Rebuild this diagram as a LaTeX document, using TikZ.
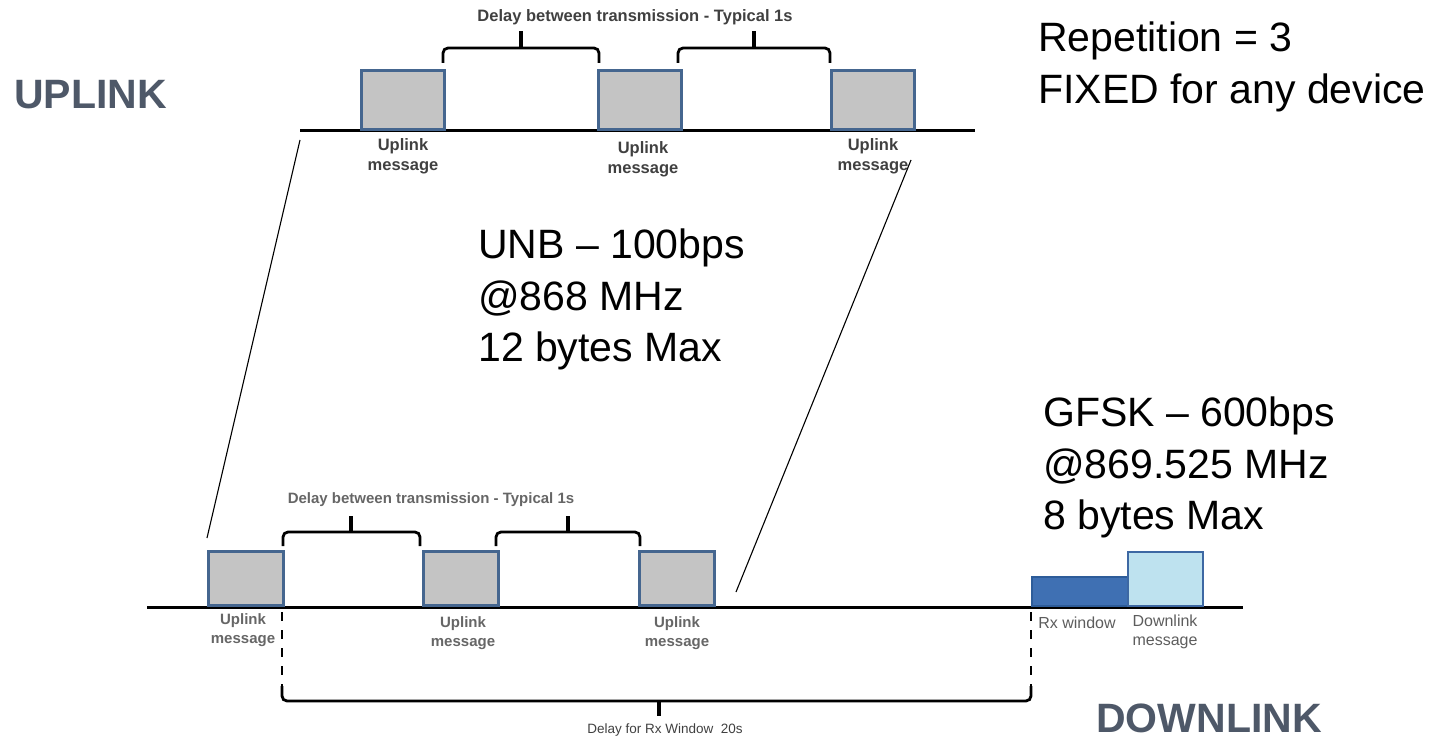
\documentclass[tikz,border=0pt]{standalone}
\usepackage{fontspec}
\setmainfont{Liberation Sans}
\definecolor{boxblue}{HTML}{45668F}
\definecolor{boxgray}{HTML}{C4C4C4}
\definecolor{rxblue}{HTML}{3F70B3}
\definecolor{rxedge}{HTML}{2D5C99}
\definecolor{dlfill}{HTML}{BEE2EF}
\definecolor{dledge}{HTML}{3D68A3}
\definecolor{titlegray}{HTML}{4E5868}
\definecolor{smallgray}{HTML}{404040}
\begin{document}
\begin{tikzpicture}[x=1pt,y=-1pt,
  ulbox/.style={draw=boxblue, fill=boxgray, line width=2.6pt, inner sep=0pt, anchor=south west},
  axis/.style={line width=3pt, black},
  brace/.style={line width=2.8pt, black, rounded corners=5pt},
  tip/.style={line width=3.2pt, black},
  zoomline/.style={line width=1.1pt, black},
  big/.style={font=\fontsize{41}{51.5}\selectfont, inner sep=0pt, anchor=north west, align=left},
  title/.style={font=\bfseries\fontsize{41}{48}\selectfont, text=titlegray, inner sep=0pt, anchor=west},
  lbltop/.style={font=\bfseries\fontsize{16.5}{20}\selectfont, text=smallgray, align=center, inner sep=0pt},
  lblbot/.style={font=\bfseries\fontsize{15}{19}\selectfont, text=smallgray!80, align=center, inner sep=0pt},
  lblrx/.style={font=\fontsize{16}{18.5}\selectfont, text=smallgray!85, align=center, inner sep=0pt},
  dashv/.style={line width=2.6pt, black, dash pattern=on 9pt off 9pt}
]
\useasboundingbox (0,0) rectangle (1440,741);

% ---------------- titles and big texts
\node[title] (uplink) at (14,95) {UPLINK};
\node[title] (downlink) at (1096,718) {DOWNLINK};
\node[big] (rep) at (1038,22) {Repetition = 3\\FIXED for any device};
\node[big] (unb) at (478,229) {UNB – 100bps\\@868 MHz\\12 bytes Max};
\node[big] (gfsk) at (1043,397) {GFSK – 600bps\\@869.525 MHz\\8 bytes Max};

% ---------------- top timeline
\coordinate (ta) at (300,131);
\coordinate (tb) at (975,131);
\draw[axis] (ta) -- (tb);
\node[ulbox, minimum width=83pt, minimum height=59pt] (t1) at (360,131) {};
\node[ulbox, minimum width=83pt, minimum height=59pt] (t2) at (597,131) {};
\node[ulbox, minimum width=83pt, minimum height=59pt] (t3) at (830,131) {};
\node[lbltop] (tl1) at (403,156) {Uplink\\message};
\node[lbltop] (tl2) at (643,159) {Uplink\\message};
\node[lbltop] (tl3) at (873,156) {Uplink\\message};

% braces top
\draw[brace] (443,63) -- (443,48) -- (599,48) -- (599,63);
\draw[tip] (521,48) -- (521,31);
\draw[brace] (678,63) -- (678,48) -- (830,48) -- (830,63);
\draw[tip] (754,48) -- (754,31);
\node[font=\bfseries\fontsize{16.5}{18}\selectfont, text=smallgray, inner sep=0pt] (tdelay) at (635,17) {Delay between transmission - Typical 1s};

% ---------------- bottom timeline
\coordinate (ba) at (147,607);
\coordinate (bb) at (1243,607);
\draw[axis] (ba) -- (bb);
\node[ulbox, minimum width=75pt, minimum height=54pt] (b1) at (207,607) {};
\node[ulbox, minimum width=75pt, minimum height=54pt] (b2) at (422,607) {};
\node[ulbox, minimum width=75pt, minimum height=54pt] (b3) at (638,607) {};
\node[lblbot] (bl1) at (243,630) {Uplink\\message};
\node[lblbot] (bl2) at (463,633) {Uplink\\message};
\node[lblbot] (bl3) at (677,633) {Uplink\\message};

% braces bottom
\draw[brace] (283,546) -- (283,532) -- (420,532) -- (420,546);
\draw[tip] (351,532) -- (351,516);
\draw[brace] (496,546) -- (496,532) -- (640,532) -- (640,546);
\draw[tip] (568,532) -- (568,516);
\node[font=\bfseries\fontsize{15}{17}\selectfont, text=smallgray!80, inner sep=0pt] (bdelay) at (431,500) {Delay between transmission - Typical 1s};

% Rx window and downlink
\node[draw=rxedge, fill=rxblue, line width=2.2pt, inner sep=0pt, anchor=south west, minimum width=96pt, minimum height=29pt] (rx) at (1031,607) {};
\node[draw=dledge, fill=dlfill, line width=2.2pt, inner sep=0pt, anchor=south west, minimum width=75pt, minimum height=54pt] (dl) at (1127,607) {};
\node[lblrx] (rxl) at (1077,623) {Rx window};
\node[lblrx] (dll) at (1165,632) {Downlink\\message};

% delay for rx window
\coordinate (d1) at (282,612);
\coordinate (d2) at (1031,612);
\draw[dashv] (d1) -- (282,688);
\draw[dashv] (d2) -- (1031,688);
\draw[brace] (282,686) -- (282,701) -- (1031,701) -- (1031,686);
\draw[tip] (659,701) -- (659,716);
\node[font=\fontsize{13.5}{17}\selectfont, text=smallgray, inner sep=0pt] (rxdelay) at (665,730) {Delay for Rx Window\ \ 20s};

% zoom lines
\coordinate (z1) at (300,140);
\coordinate (z2) at (207,538);
\coordinate (z3) at (911,160);
\coordinate (z4) at (736,592);
\draw[zoomline] (z1) -- (z2);
\draw[zoomline] (z3) -- (z4);
\end{tikzpicture}
\end{document}
